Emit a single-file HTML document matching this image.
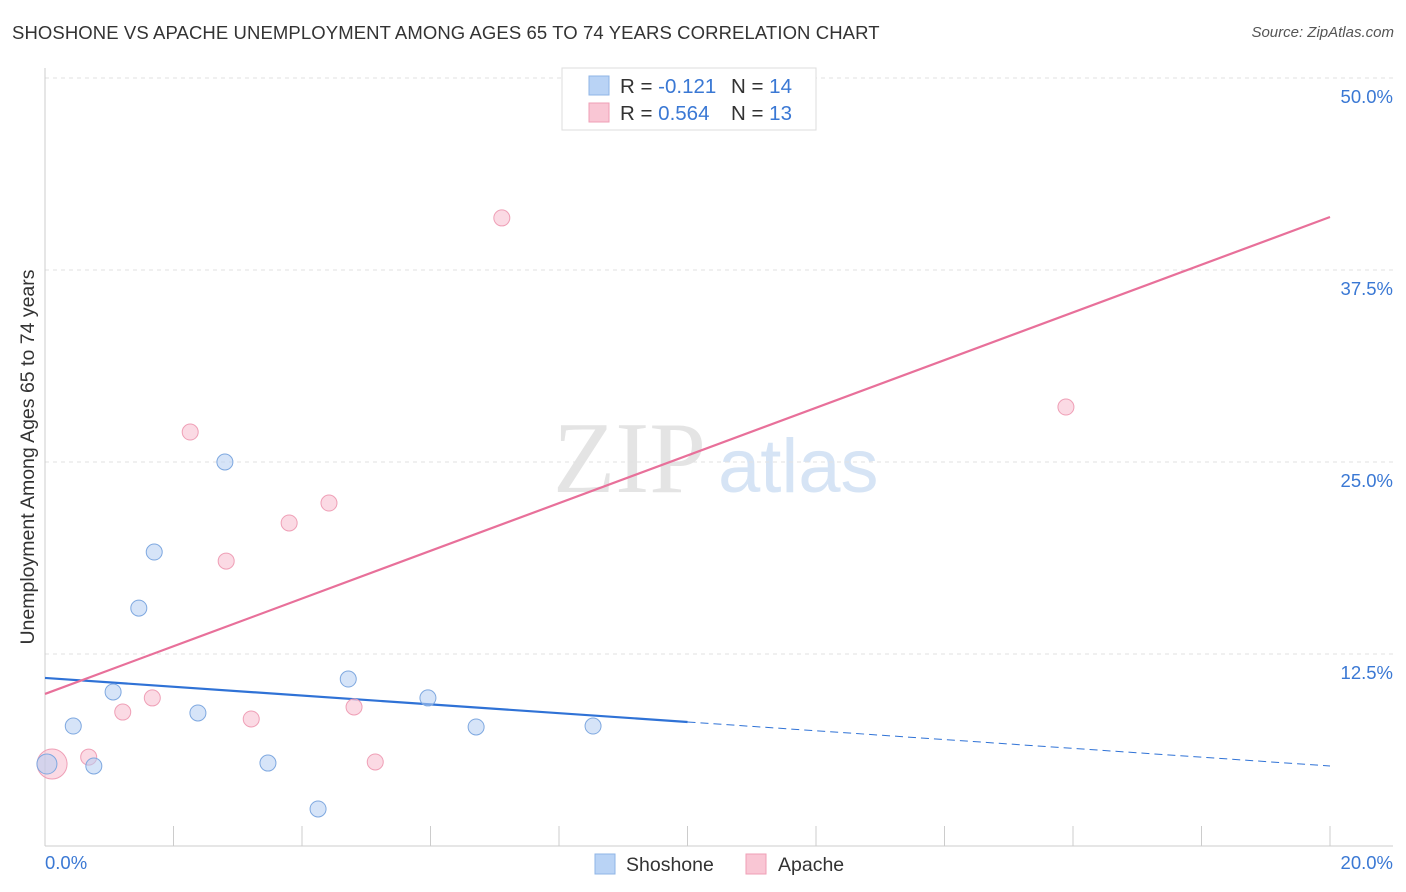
<!DOCTYPE html>
<html><head><meta charset="utf-8">
<style>
body{margin:0;background:#fff;font-family:"Liberation Sans",sans-serif;}
#wrap{position:relative;width:1406px;height:892px;overflow:hidden;}
.title{position:absolute;left:12px;top:22px;font-size:18.5px;color:#333;letter-spacing:0.1px}
.source{position:absolute;right:12px;top:24px;font-size:15px;color:#555;font-style:italic}
</style></head><body>
<div id="wrap">
<div class="title">SHOSHONE VS APACHE UNEMPLOYMENT AMONG AGES 65 TO 74 YEARS CORRELATION CHART</div>
<div class="source">Source: ZipAtlas.com</div>
<svg id="chart" width="1406" height="892" style="position:absolute;left:0;top:0">
<text x="553" y="492" font-family="Liberation Serif" font-size="102" fill="#e4e4e4">ZIP</text>
<text x="718" y="492" font-family="Liberation Sans" font-size="76" fill="#d6e4f5">atlas</text>
<text transform="translate(34,457) rotate(-90)" text-anchor="middle" font-size="19.5" fill="#333">Unemployment Among Ages 65 to 74 years</text>
<g id="grid"></g><g id="lines"></g><g id="pts"></g>
<g>
<rect x="562" y="68" width="254" height="62" fill="#fff" stroke="#ddd"/>
<rect x="589" y="76" width="20" height="19" fill="#b9d3f5" stroke="#8fb4e6"/>
<rect x="589" y="103" width="20" height="19" fill="#f9c6d4" stroke="#ef9fb6"/>
<text x="620" y="93" font-size="20.5" fill="#333">R = <tspan fill="#3a78d4">-0.121</tspan></text>
<text x="731" y="93" font-size="20.5" fill="#333">N = <tspan fill="#3a78d4">14</tspan></text>
<text x="620" y="120" font-size="20.5" fill="#333">R = <tspan fill="#3a78d4">0.564</tspan></text>
<text x="731" y="120" font-size="20.5" fill="#333">N = <tspan fill="#3a78d4">13</tspan></text>
</g>
<g>
<rect x="595" y="854" width="20" height="20" fill="#b9d3f5" stroke="#8fb4e6"/>
<text x="626" y="871" font-size="19.5" fill="#333">Shoshone</text>
<rect x="746" y="854" width="20" height="20" fill="#f9c6d4" stroke="#ef9fb6"/>
<text x="778" y="871" font-size="19.5" fill="#333">Apache</text>
</g>
</svg>
</div>
<script>
const yTicks=[12.5,25,37.5,50];
const yTickLabels=["12.5%","25.0%","37.5%","50.0%"];
const xTickCount=10;
const shoshoneX=[0.03,0.44,0.76,1.06,1.46,1.70,2.38,2.80,3.47,4.25,4.72,5.96,6.71,8.53];
const shoshoneY=[5.34,7.81,5.21,10.03,15.49,19.14,8.66,25.0,5.40,2.41,10.87,9.64,7.75,7.81];
const apacheX=[0.11,0.68,1.21,1.67,2.26,2.82,3.21,3.80,4.42,4.81,5.14,7.11,15.89];
const apacheY=[5.34,5.79,8.72,9.64,26.95,18.55,8.27,21.03,22.33,9.05,5.47,40.89,28.58];
const shoshoneTrend=[10.94,5.21];
const apacheTrend=[9.90,40.95];
const xMax=20, solidEndShoshone=10;
const NS="http://www.w3.org/2000/svg";
function sx(v){return 45+v/xMax*1285;}
function sy(v){return 846-v*15.36;}
function mk(tag,attrs,parent){const e=document.createElementNS(NS,tag);for(const k in attrs)e.setAttribute(k,attrs[k]);document.getElementById(parent).appendChild(e);return e;}
let e;
yTicks.forEach((t,i)=>{
 e=mk('line',{x1:45,x2:1393,y1:sy(t),y2:sy(t),stroke:'#e2e2e2','stroke-dasharray':'4,4'},'grid');
 
 
 e=mk('text',{x:1393,y:sy(t)+25,'text-anchor':'end','font-size':18.5,fill:'#3a78d4'},'grid');
 e.textContent=yTickLabels[i];
 
 
});
e=mk('line',{x1:45,x2:1393,y1:846,y2:846,stroke:'#ccc'},'grid');


e=mk('line',{x1:45,x2:45,y1:68,y2:846,stroke:'#ccc'},'grid');


for(let i=0;i<=xTickCount;i++){
 const x=sx(i*xMax/xTickCount);
 e=mk('line',{x1:x,x2:x,y1:826,y2:846,stroke:'#ccc'},'grid');
 
 
}
e=mk('text',{x:45,y:869,'font-size':18.5,fill:'#3a78d4'},'grid');e.textContent='0.0%';


e=mk('text',{x:1393,y:869,'text-anchor':'end','font-size':18.5,fill:'#3a78d4'},'grid');e.textContent='20.0%';


const sv=t=>shoshoneTrend[0]+(shoshoneTrend[1]-shoshoneTrend[0])*t/xMax;
e=mk('line',{x1:sx(0),y1:sy(sv(0)),x2:sx(solidEndShoshone),y2:sy(sv(solidEndShoshone)),stroke:'#2f72d6','stroke-width':2.2},'lines');


e=mk('line',{x1:sx(solidEndShoshone),y1:sy(sv(solidEndShoshone)),x2:sx(xMax),y2:sy(sv(xMax)),stroke:'#2f72d6','stroke-width':1,'stroke-dasharray':'8,5'},'lines');


e=mk('line',{x1:sx(0),y1:sy(apacheTrend[0]),x2:sx(xMax),y2:sy(apacheTrend[1]),stroke:'#e8709a','stroke-width':2.2},'lines');


apacheX.forEach((x,i)=>{
 e=mk('circle',{cx:sx(x),cy:sy(apacheY[i]),r:i===0?15:8,fill:'rgba(247,182,202,0.5)',stroke:'#ef9fb6','stroke-width':1},'pts');
 
 
});
shoshoneX.forEach((x,i)=>{
 e=mk('circle',{cx:sx(x),cy:sy(shoshoneY[i]),r:i===0?10:8,fill:'rgba(180,206,242,0.55)',stroke:'#7ea8e0','stroke-width':1},'pts');
 
 
});
</script>
</body></html>
